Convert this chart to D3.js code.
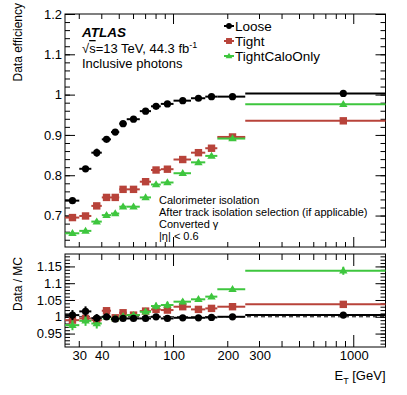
<!DOCTYPE html>
<html>
<head>
<meta charset="utf-8">
<script src="https://cdn.jsdelivr.net/npm/d3@7/dist/d3.min.js"></script>
<style>
  body { margin: 0; background: #fff; }
  text { font-family: "Liberation Sans", Arial, sans-serif; fill: #000; }
  .tick text { font-size: 13px; }
</style>
</head>
<body>
<script>
// E_T bin edges (GeV) and tick labels
var binEdges = [25, 30, 35, 40, 45, 50, 55, 65, 75, 85, 100, 125, 150, 175, 250, 1500];
var xLabels = [30, 40, 100, 200, 300, 1000];
var effTicks = [0.7, 0.8, 0.9, 1, 1.1, 1.2];
var ratioTicks = [0.95, 1, 1.05, 1.1, 1.15];

// Data efficiency per bin
var looseEff = [0.737, 0.816, 0.856, 0.889, 0.907, 0.928, 0.939, 0.959, 0.971, 0.977, 0.985, 0.991, 0.995, 0.995, 1.003];
var tightEff = [0.695, 0.699, 0.724, 0.745, 0.745, 0.765, 0.765, 0.784, 0.813, 0.815, 0.839, 0.856, 0.867, 0.895, 0.935];
var caloEff = [0.656, 0.662, 0.685, 0.701, 0.705, 0.722, 0.722, 0.745, 0.777, 0.782, 0.805, 0.832, 0.848, 0.891, 0.976];
var looseEffErr = [0.004, 0.004, 0.01, 0.006, 0.004, 0.003, 0.003, 0.003, 0.003, 0.003, 0.002, 0.002, 0.002, 0.002, 0.002];
var tightEffErr = [0.004, 0.004, 0.005, 0.004, 0.004, 0.003, 0.003, 0.003, 0.003, 0.003, 0.003, 0.003, 0.003, 0.003, 0.003];
var caloEffErr = [0.004, 0.004, 0.005, 0.004, 0.004, 0.003, 0.003, 0.003, 0.003, 0.003, 0.003, 0.003, 0.003, 0.003, 0.003];

// Data / MC ratio per bin
var looseSF = [1.005, 1.016, 0.996, 1.0, 0.993, 0.995, 0.995, 0.995, 1.0, 0.995, 0.997, 0.997, 0.998, 1.0, 1.005];
var tightSF = [0.99, 0.995, 0.99, 1.018, 0.997, 1.012, 1.005, 1.017, 1.022, 1.02, 1.03, 1.022, 1.025, 1.03, 1.037];
var caloSF = [0.975, 0.988, 0.98, 1.0, 0.995, 1.002, 1.005, 1.015, 1.032, 1.035, 1.045, 1.052, 1.06, 1.082, 1.137];
var looseSFErr = [0.015, 0.015, 0.012, 0.006, 0.005, 0.004, 0.004, 0.003, 0.003, 0.003, 0.003, 0.003, 0.003, 0.003, 0.003];
var tightSFErr = [0.008, 0.008, 0.008, 0.006, 0.006, 0.005, 0.005, 0.005, 0.005, 0.005, 0.005, 0.005, 0.005, 0.005, 0.005];
var caloSFErr = [0.015, 0.015, 0.015, 0.008, 0.006, 0.006, 0.006, 0.008, 0.01, 0.01, 0.008, 0.005, 0.005, 0.005, 0.012];

var seriesNames = ["Loose", "Tight", "TightCaloOnly"];
var seriesColors = ["#000000", "#b8433a", "#3ec63e"];
var seriesMarkers = ["circle", "square", "triangle"];

var width = 407;
var height = 395;
var svg = d3.select("body").append("svg")
  .attr("width", width)
  .attr("height", height);

// frame positions
var left = 65, right = 385.5;
var topY0 = 14, topY1 = 247;
var ratY0 = 254, ratY1 = 347;

var xScale = d3.scaleLog().domain([25, 1500]).range([left, right]);
var yEff = d3.scaleLinear().domain([0.622, 1.2]).range([topY1, topY0]);
var yRat = d3.scaleLinear().domain([0.91, 1.187]).range([ratY1, ratY0]);

var xMinor = [30, 40, 50, 60, 70, 80, 90, 200, 300, 400, 500, 600, 700, 800, 900];
var xMajor = [100, 1000];

function drawAxes(yScale, y0, y1, majors, minors, majLen, minLen, xMajLen, xMinLen, withX) {
  // left axis with labels
  svg.append("g").attr("transform", "translate(" + left + ",0)")
    .call(d3.axisLeft(yScale).tickValues(majors).tickSizeInner(-majLen).tickSizeOuter(0).tickPadding(3)
      .tickFormat(d3.format("~g")));
  svg.append("g").attr("transform", "translate(" + left + ",0)")
    .call(d3.axisLeft(yScale).tickValues(minors).tickSizeInner(-minLen).tickSizeOuter(0).tickFormat(""));
  // right axis, ticks only
  svg.append("g").attr("transform", "translate(" + right + ",0)")
    .call(d3.axisRight(yScale).tickValues(majors).tickSizeInner(-majLen).tickSizeOuter(0).tickFormat(""));
  svg.append("g").attr("transform", "translate(" + right + ",0)")
    .call(d3.axisRight(yScale).tickValues(minors).tickSizeInner(-minLen).tickSizeOuter(0).tickFormat(""));
  // bottom and top x ticks
  var bottom = d3.axisBottom(xScale).tickValues(xMinor.concat(xMajor)).tickSizeOuter(0).tickPadding(4)
    .tickSizeInner(0)
    .tickFormat(function(d) { return (withX && xLabels.indexOf(d) >= 0) ? d : ""; });
  svg.append("g").attr("transform", "translate(0," + y1 + ")").call(bottom);
  [[y1, -1], [y0, 1]].forEach(function(p) {
    svg.append("g").selectAll("line")
      .data(xMinor.concat(xMajor))
      .enter().append("line")
      .attr("x1", function(d) { return xScale(d); })
      .attr("x2", function(d) { return xScale(d); })
      .attr("y1", p[0])
      .attr("y2", function(d) { return p[0] + p[1] * (xMajor.indexOf(d) >= 0 ? xMajLen : xMinLen); })
      .attr("stroke", "#000");
  });
  svg.selectAll(".domain").remove();
  // frame
  svg.append("rect")
    .attr("x", left).attr("y", y0)
    .attr("width", right - left).attr("height", y1 - y0)
    .attr("fill", "none").attr("stroke", "#000");
}

var effMinor = d3.range(0.64, 1.2001, 0.02);
var ratMinor = d3.range(0.92, 1.1801, 0.01);
drawAxes(yEff, topY0, topY1, effTicks, effMinor, 10, 5, 10, 5, false);
drawAxes(yRat, ratY0, ratY1, ratioTicks, ratMinor, 10, 5, 12, 6, true);

// dashed reference line at 1
svg.append("line")
  .attr("x1", left).attr("x2", right)
  .attr("y1", yRat(1)).attr("y2", yRat(1))
  .attr("stroke", "#000").attr("stroke-dasharray", "4,3");

function marker(g, type, cx, cy, color, s) {
  if (type == "circle") {
    g.append("circle").attr("cx", cx).attr("cy", cy).attr("r", 3.6 * s).attr("fill", color);
  }
  else if (type == "square") {
    g.append("rect").attr("x", cx - 3.7 * s).attr("y", cy - 3.7 * s)
      .attr("width", 7.4 * s).attr("height", 7.4 * s).attr("fill", color);
  }
  else {
    var h = 7 * s, w = 8.4 * s;
    g.append("path")
      .attr("d", "M" + cx + "," + (cy - h * 0.6) + "L" + (cx + w / 2) + "," + (cy + h * 0.4) +
        "L" + (cx - w / 2) + "," + (cy + h * 0.4) + "Z")
      .attr("fill", color);
  }
}

function drawSeries(values, errs, yScale, idx) {
  var color = seriesColors[idx];
  var g = svg.append("g");
  values.forEach(function(v, i) {
    var lo = binEdges[i], hi = binEdges[i + 1];
    var c = (lo + hi) / 2;
    var cx = xScale(c), cy = yScale(v);
    g.append("line")
      .attr("x1", xScale(lo)).attr("x2", xScale(hi))
      .attr("y1", cy).attr("y2", cy)
      .attr("stroke", color).attr("stroke-width", 2);
    g.append("line")
      .attr("x1", cx).attr("x2", cx)
      .attr("y1", yScale(v - errs[i])).attr("y2", yScale(v + errs[i]))
      .attr("stroke", color).attr("stroke-width", 2);
    marker(g, seriesMarkers[idx], cx, cy, color, 1);
  });
}

// top panel: efficiencies
drawSeries(looseEff, looseEffErr, yEff, 0);
drawSeries(tightEff, tightEffErr, yEff, 1);
drawSeries(caloEff, caloEffErr, yEff, 2);

// bottom panel: data / MC
drawSeries(tightSF, tightSFErr, yRat, 1);
drawSeries(caloSF, caloSFErr, yRat, 2);
drawSeries(looseSF, looseSFErr, yRat, 0);

// legend
var legend = svg.selectAll(".legend")
  .data(seriesNames)
  .enter().append("g")
  .attr("transform", function(d, i) { return "translate(229," + (26 + i * 15) + ")"; });
legend.each(function(d, i) {
  var g = d3.select(this);
  g.append("line").attr("x1", -5).attr("x2", 5).attr("y1", 0).attr("y2", 0)
    .attr("stroke", seriesColors[i]).attr("stroke-width", 2);
  marker(g, seriesMarkers[i], 0, 0, seriesColors[i], 0.8);
  g.append("text").attr("x", 6).attr("y", 5).style("font-size", "13.5px").text(d);
});

// ATLAS label
svg.append("text").attr("x", 82).attr("y", 37)
  .style("font-size", "13.5px").style("font-weight", "bold").style("font-style", "italic")
  .text("ATLAS");
var lumi = svg.append("text").attr("x", 82).attr("y", 53).style("font-size", "13px");
lumi.append("tspan").text("√");
lumi.append("tspan").style("text-decoration", "overline").text("s");
lumi.append("tspan").text("=13 TeV, 44.3 fb");
lumi.append("tspan").attr("dy", -5).style("font-size", "9px").text("-1");
svg.append("text").attr("x", 82).attr("y", 68).style("font-size", "13px").text("Inclusive photons");

// selection description
var notes = ["Calorimeter isolation", "After track isolation selection (if applicable)", "Converted γ", "|η| < 0.6"];
svg.selectAll(".note")
  .data(notes)
  .enter().append("text")
  .attr("x", 159)
  .attr("y", function(d, i) { return 204 + i * 12; })
  .style("font-size", "11px")
  .text(function(d) { return d; });

// axis titles
svg.append("text")
  .attr("transform", "translate(22,3) rotate(-90)")
  .attr("text-anchor", "end")
  .style("font-size", "12px")
  .text("Data efficiency");
svg.append("text")
  .attr("transform", "translate(22,257) rotate(-90)")
  .attr("text-anchor", "end")
  .style("font-size", "12px")
  .text("Data / MC");
var xt = svg.append("text").attr("x", right).attr("y", 380)
  .attr("text-anchor", "end").style("font-size", "13px");
xt.append("tspan").text("E");
xt.append("tspan").attr("dy", 4).style("font-size", "9px").text("T");
xt.append("tspan").attr("dy", -4).text(" [GeV]");
</script>
</body>
</html>
